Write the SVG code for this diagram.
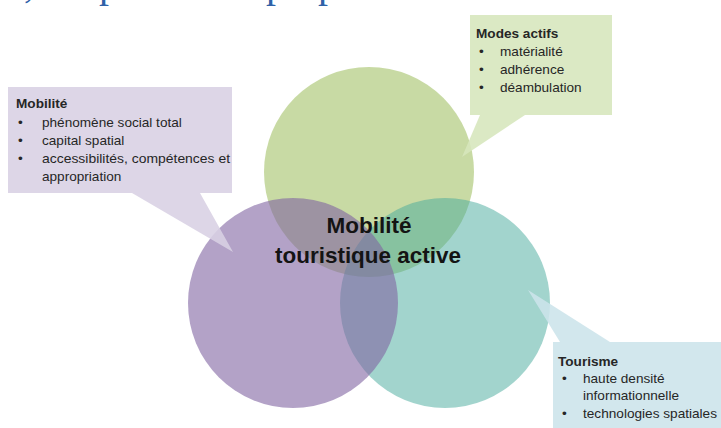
<svg xmlns="http://www.w3.org/2000/svg" width="721" height="428" viewBox="0 0 721 428">
<style>
.t{font-family:"Liberation Sans",Arial,sans-serif;font-size:13.6px;fill:#262626}
.b{font-weight:bold}
.c{font-family:"Liberation Sans",Arial,sans-serif;font-size:22.5px;font-weight:bold;fill:#141414;text-anchor:middle}
.title{font-family:"Liberation Serif","Times New Roman",serif;font-size:40px;fill:#2f62a8}
</style>
<rect width="721" height="428" fill="#ffffff"/>
<text class="title" y="-3"><tspan x="24">,</tspan><tspan x="99">p</tspan><tspan x="266">p</tspan><tspan x="318">p</tspan></text>
<g id="circles">
<g id="c-modes"><circle cx="369" cy="172" r="105" fill="#9bbb59" fill-opacity="0.55"/></g>
<g id="c-tourisme"><circle cx="445" cy="303" r="105" fill="#46aa9b" fill-opacity="0.5"/></g>
<g id="c-mobilite"><circle cx="293" cy="303" r="105" fill="#8064a2" fill-opacity="0.6"/></g>
</g>
<g id="center-label">
<text class="c" x="369" y="233">Mobilité</text>
<text class="c" x="368" y="263" textLength="186" lengthAdjust="spacingAndGlyphs">touristique active</text>
</g>
<g id="connectors"></g>
<g id="callout-mobilite">
<path d="M8,87 H232 V193 H200 L233,252 L132,193 H8 Z" fill="#d8d0e4" fill-opacity="0.88"/>
<text class="t b" x="16" y="108">Mobilité</text>
<text class="t" x="18" y="127">•</text><text class="t" x="42" y="127">phénomène social total</text>
<text class="t" x="18" y="145">•</text><text class="t" x="42" y="145">capital spatial</text>
<text class="t" x="18" y="163">•</text><text class="t" x="42" y="163" textLength="188" lengthAdjust="spacingAndGlyphs">accessibilités, compétences et</text>
<text class="t" x="42" y="181">appropriation</text>
</g>
<g id="callout-modes">
<path d="M470,15 H612 V115 H525 L462,157 L480,115 H470 Z" fill="#d6e6bc" fill-opacity="0.88"/>
<text class="t b" x="476" y="38">Modes actifs</text>
<text class="t" x="479" y="56">•</text><text class="t" x="500" y="56">matérialité</text>
<text class="t" x="479" y="74">•</text><text class="t" x="500" y="74">adhérence</text>
<text class="t" x="479" y="92">•</text><text class="t" x="500" y="92">déambulation</text>
</g>
<g id="callout-tourisme">
<path d="M553,342 H560 L528,290 L610,342 H721 V428 H553 Z" fill="#cce4eb" fill-opacity="0.88"/>
<text class="t b" x="558" y="366">Tourisme</text>
<text class="t" x="562" y="383">•</text><text class="t" x="583" y="383">haute densité</text>
<text class="t" x="583" y="400">informationnelle</text>
<text class="t" x="562" y="418">•</text><text class="t" x="583" y="418" textLength="134" lengthAdjust="spacingAndGlyphs">technologies spatiales</text>
</g>
</svg>
